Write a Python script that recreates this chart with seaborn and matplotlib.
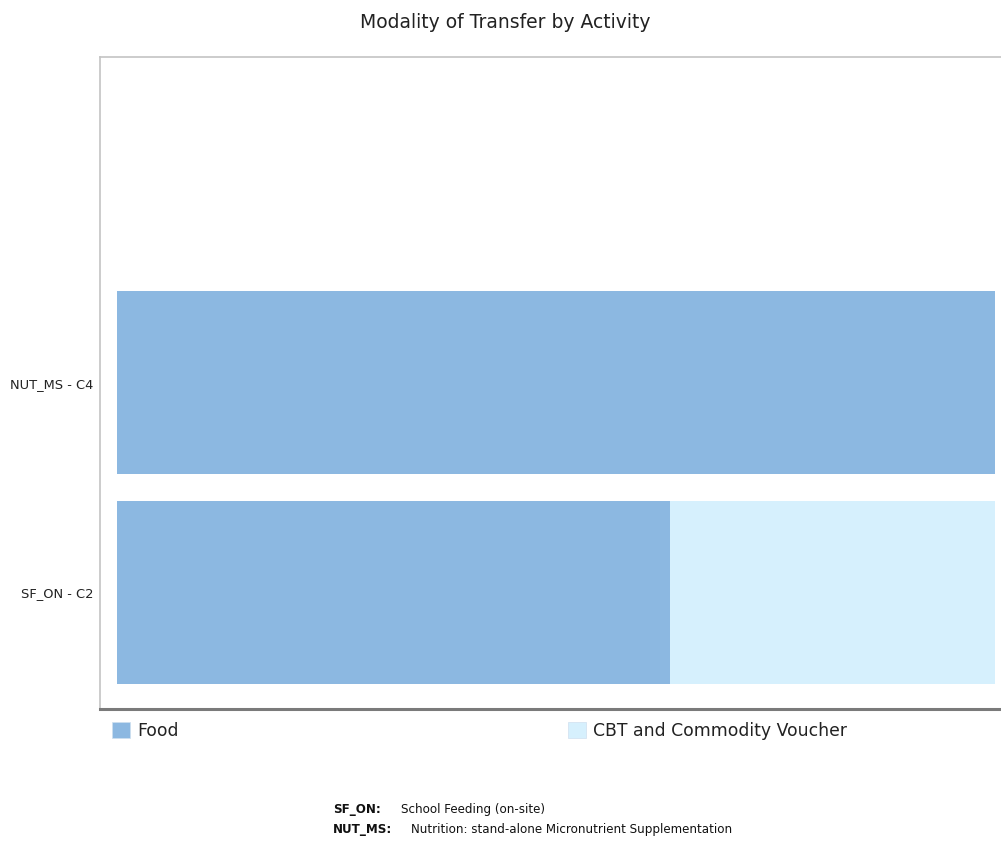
import pandas as pd
import matplotlib.pyplot as plt
import matplotlib.patches as mpatches
import seaborn as sns

activities = ["NUT_MS - C4", "SF_ON - C2"]
food = [100, 63]
cbt = [0, 37]
legend_labels = ["Food", "CBT and Commodity Voucher"]
food_color = "#8cb8e1"
cbt_color = "#d6f0fd"

df = pd.DataFrame({"activity": activities, "food": food, "cbt": cbt})
df["total"] = df["food"] + df["cbt"]

sns.set_style("white")
plt.rcParams["font.family"] = ["DejaVu Sans"]

fig = plt.figure(figsize=(10.01, 8.42), dpi=100)
ax = fig.add_axes([100 / 1001, 1 - 708.5 / 842, 901 / 1001, (708.5 - 57) / 842])

# stacked: total first (CBT colour), food on top of it
sns.barplot(data=df, y="activity", x="total", order=activities, color=cbt_color,
            width=0.875, saturation=1, ax=ax, linewidth=0)
sns.barplot(data=df, y="activity", x="food", order=activities, color=food_color,
            width=0.875, saturation=1, ax=ax, linewidth=0)

ax.set_xlim(-1.94, 100.68)
ax.set_ylim(1.555, -1.555)
ax.set_xlabel("")
ax.set_ylabel("")
ax.set_xticks([])
ax.tick_params(axis="y", length=0, pad=5, labelsize=9.4, labelcolor="#222222")

for s in ["left", "top"]:
    ax.spines[s].set_color("#c4c4c4")
    ax.spines[s].set_linewidth(1.2)
ax.spines["right"].set_visible(False)
ax.spines["bottom"].set_color("#7a7a7a")
ax.spines["bottom"].set_linewidth(2.2)

fig.text(0.505, 1 - 22 / 842, "Modality of Transfer by Activity", ha="center", va="center",
         fontsize=13.5, color="#222222")

# legend, two entries far apart
for lab, col, xpos in zip(legend_labels, [food_color, cbt_color], [112, 568]):
    h = mpatches.Patch(facecolor=col, edgecolor="#cfe0ef", linewidth=0.5)
    leg = fig.legend(handles=[h], labels=[lab], loc="center left",
                     bbox_to_anchor=(xpos / 1001, 1 - 731 / 842), frameon=False,
                     fontsize=12.4, handlelength=1.05, handleheight=1.05, handletextpad=0.4,
                     borderaxespad=0, borderpad=0)
    for t in leg.get_texts():
        t.set_color("#222222")

# footnote with activity abbreviations
notes = [("SF_ON:", "School Feeding (on-site)", 401), ("NUT_MS:", "Nutrition: stand-alone Micronutrient Supplementation", 411)]
for i, (code, desc, xd) in enumerate(notes):
    yy = 1 - (810 + 20 * i) / 842
    fig.text(333 / 1001, yy, code, fontsize=8.6, fontweight="bold", va="center", color="#111111")
    fig.text(xd / 1001, yy, desc, fontsize=8.6, va="center", color="#111111")

fig.savefig("out.png", dpi=100)
